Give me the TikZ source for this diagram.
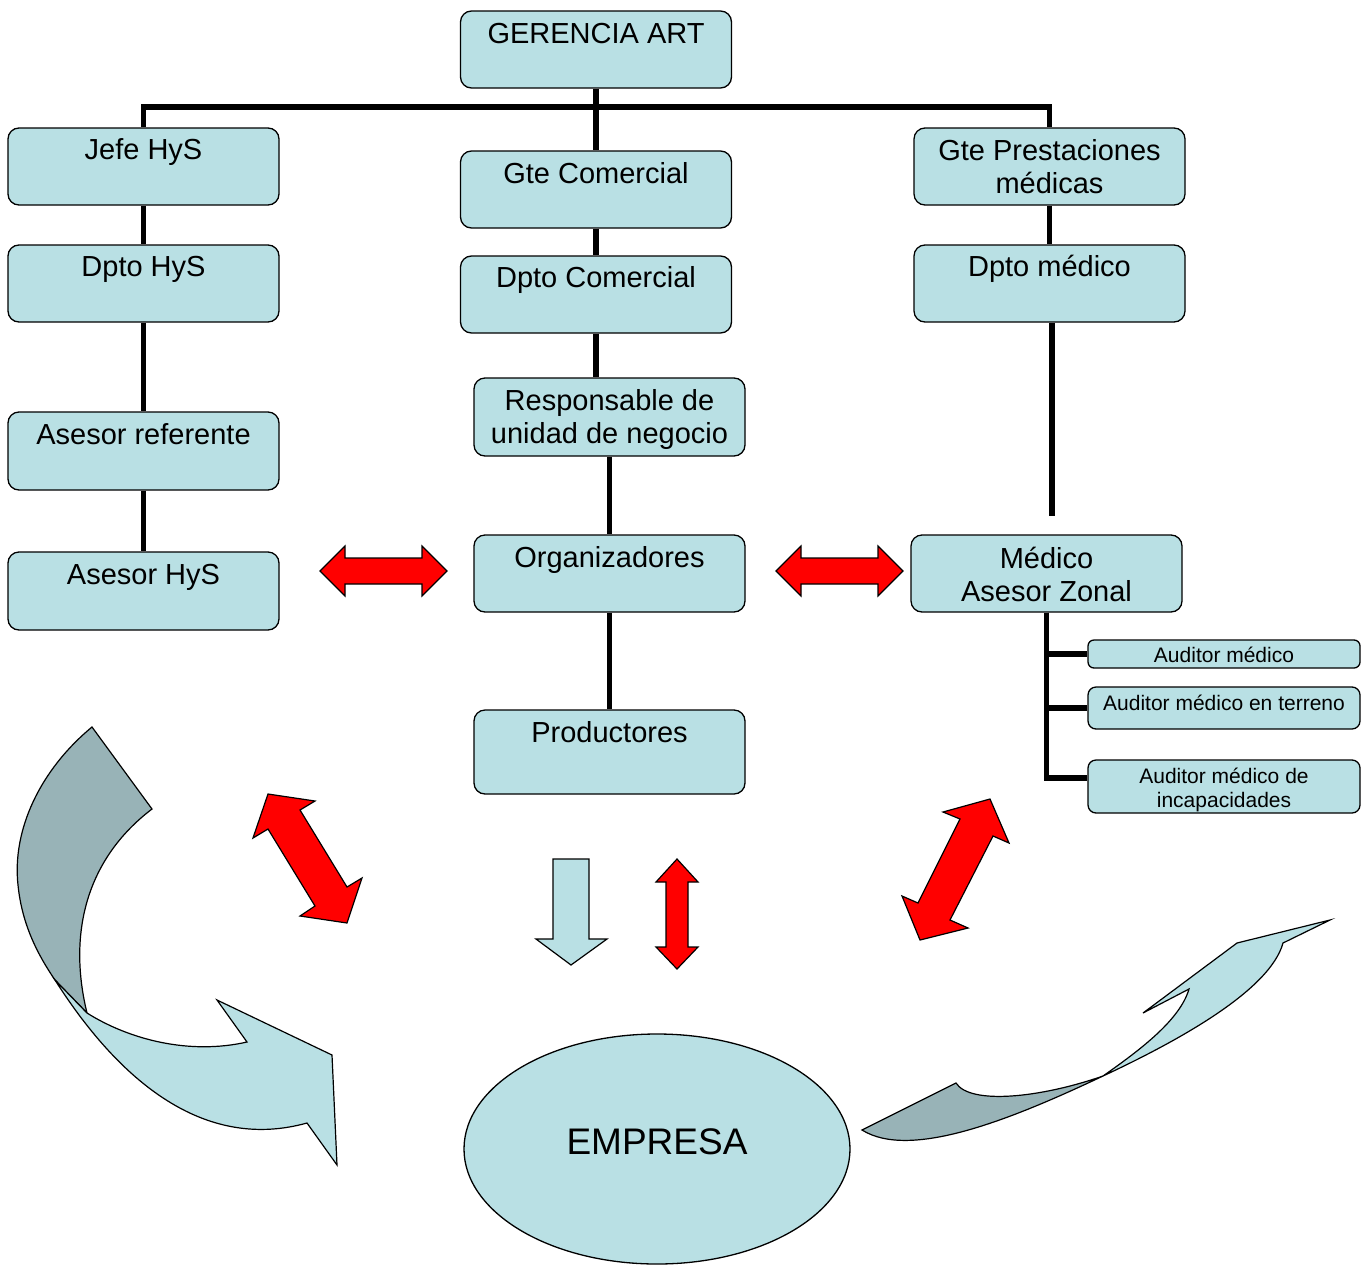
\documentclass[tikz,border=0pt]{standalone}
\usepackage{fontspec}
\setmainfont{Liberation Sans}
\usetikzlibrary{shapes.geometric}
\definecolor{boxblue}{RGB}{185,224,228}
\definecolor{arrgray}{RGB}{152,179,183}
\begin{document}
\begin{tikzpicture}[x=1pt,y=-1pt,
  box/.style={draw=black, line width=1.3pt, fill=boxblue, rounded corners=11pt,
    minimum width=271pt, minimum height=77pt, inner sep=0pt},
  txt/.style={anchor=base, inner sep=0pt, align=center,
    font=\fontsize{29pt}{33pt}\selectfont},
  stxt/.style={anchor=base, inner sep=0pt, align=center,
    font=\fontsize{21pt}{24pt}\selectfont},
  conn/.style={line width=5.5pt, draw=black},
  redarr/.style={fill=red, draw=black, line width=1.2pt, line join=miter},
  bluearr/.style={fill=boxblue, draw=black, line width=1.2pt},
  grayarr/.style={fill=arrgray, draw=black, line width=1.2pt}]
\useasboundingbox (0,0) rectangle (1367,1266);

% ---------- boxes ----------
\node[box] (ger) at (596,49.5) {};
\node[box] (jefe) at (143.5,166.5) {};
\node[box] (gtecom) at (596,189.5) {};
\node[box] (gpres) at (1049.5,166.5) {};
\node[box] (dptohys) at (143.5,283.5) {};
\node[box] (dptocom) at (596,294.5) {};
\node[box] (dptomed) at (1049.5,283.5) {};
\node[box, minimum height=78pt] (resp) at (609.5,417) {};
\node[box, minimum height=78pt] (asesref) at (143.5,451) {};
\node[box, minimum height=78pt] (aseshys) at (143.5,591) {};
\node[box] (org) at (609.5,573.5) {};
\node[box] (medico) at (1046.5,573.5) {};
\node[box, minimum height=84pt] (prod) at (609.5,752) {};
\node[box, minimum width=272pt, minimum height=28pt, rounded corners=6pt] (aud1) at (1224,654) {};
\node[box, minimum width=272pt, minimum height=42pt, rounded corners=8pt] (aud2) at (1224,708) {};
\node[box, minimum width=272pt, minimum height=53pt, rounded corners=8pt] (aud3) at (1224,786.5) {};

% ---------- texts (multi-line: base = last line) ----------
\node[txt] (gerT) at (596,43.5) {GERENCIA ART};
\node[txt] (jefeT) at (143.5,159.5) {Jefe HyS};
\node[txt] (gtecomT) at (596,183.5) {Gte Comercial};
\node[txt] (gpresT) at (1049.5,193.5) {Gte Prestaciones\\médicas};
\node[txt] (dptohysT) at (143.5,276.5) {Dpto HyS};
\node[txt] (dptocomT) at (596,287.5) {Dpto Comercial};
\node[txt] (dptomedT) at (1049.5,276.5) {Dpto médico};
\node[txt] (respT) at (609.5,443.5) {Responsable de\\unidad de negocio};
\node[txt] (asesrefT) at (143.5,444.5) {Asesor referente};
\node[txt] (aseshysT) at (143.5,584.5) {Asesor HyS};
\node[txt] (orgT) at (609.5,567.5) {Organizadores};
\node[txt] (medicoT) at (1046.5,601.5) {Médico\\Asesor Zonal};
\node[txt] (prodT) at (609.5,742.5) {Productores};
\node[stxt] (aud1T) at (1224,662.5) {Auditor médico};
\node[stxt] (aud2T) at (1224,710.5) {Auditor médico en terreno};
\node[stxt] (aud3T) at (1224,807.5) {Auditor médico de\\incapacidades};

% ---------- connectors ----------
\coordinate (bus) at (596,107);
\coordinate (medend) at (1052,516);
\draw[conn] (jefe.north) |- (bus) -| (gpres.north);
\draw[conn] (ger.south) -- (gtecom.north);
\draw[conn] (jefe.south) -- (dptohys.north);
\draw[conn] (dptohys.south) -- (asesref.north);
\draw[conn] (asesref.south) -- (aseshys.north);
\draw[conn] (gtecom.south) -- (dptocom.north);
\draw[conn] (dptocom.south) -- (dptocom.south |- resp.north);
\draw[conn] (resp.south) -- (org.north);
\draw[conn] (org.south) -- (prod.north);
\draw[conn] (gpres.south) -- (dptomed.north);
\draw[conn] (dptomed.south -| medend) -- (medend);
\draw[conn] (medico.south) |- (aud1.west);
\draw[conn] (medico.south) |- (aud2.west);
\draw[conn] (medico.south) |- ([yshift=8.5pt]aud3.west);

% ---------- red double arrows ----------
\draw[redarr] (320,571) -- (345,546) -- (345,558) -- (422,558) -- (422,546) -- (447,571)
  -- (422,596) -- (422,584) -- (345,584) -- (345,596) -- cycle;
\draw[redarr] (776,571) -- (801,546) -- (801,558) -- (878,558) -- (878,546) -- (903,571)
  -- (878,596) -- (878,584) -- (801,584) -- (801,596) -- cycle;
\draw[redarr] (677,859) -- (698,882) -- (688,882) -- (688,947) -- (698,947) -- (677,969)
  -- (656,947) -- (666,947) -- (666,882) -- (656,882) -- cycle;
\draw[redarr] (268,794) -- (315,801) -- (300,810) -- (347,887) -- (362,878) -- (347,923)
  -- (300,916) -- (315,906) -- (268,829) -- (253,838) -- cycle;
\draw[redarr] (990,799) -- (1009,843) -- (993,836) -- (950,920) -- (968,928) -- (920,940)
  -- (902,896) -- (918,903) -- (960,819) -- (943,812) -- cycle;

% ---------- light blue down arrow ----------
\draw[bluearr] (553,859) -- (589,859) -- (589,939) -- (607,939) -- (571,965) -- (536,939)
  -- (553,939) -- cycle;

% ---------- left curved arrow ----------
\draw[grayarr] (92,727) .. controls (40,770) and (12,830) .. (18,885)
  .. controls (22,925) and (38,955) .. (55,980) -- (87,1013)
  .. controls (68,935) and (85,860) .. (152,809) -- cycle;
\draw[bluearr] (55,980) -- (87,1013) .. controls (130,1040) and (190,1055) .. (247,1042)
  -- (217,1000) -- (332,1055) -- (337,1165) -- (307,1123)
  .. controls (210,1150) and (125,1090) .. (55,980) -- cycle;

% ---------- right curved arrow ----------
\draw[grayarr] (862,1130) -- (956,1083) .. controls (970,1105) and (1040,1098) .. (1103,1076)
  .. controls (1010,1120) and (910,1160) .. (862,1130) -- cycle;
\draw[bluearr] (1103,1076) .. controls (1140,1050) and (1180,1020) .. (1189,989)
  -- (1143,1013) -- (1237,943) -- (1330,920) -- (1283,943)
  .. controls (1270,990) and (1180,1040) .. (1103,1076) -- cycle;

% ---------- EMPRESA ----------
\node[ellipse, draw=black, line width=1.3pt, fill=boxblue, minimum width=386pt,
  minimum height=230pt, inner sep=0pt] (emp) at (657,1149) {};
\node[anchor=base, inner sep=0pt, font=\fontsize{37pt}{44pt}\selectfont] (empT) at (657,1154) {EMPRESA};
\end{tikzpicture}
\end{document}
